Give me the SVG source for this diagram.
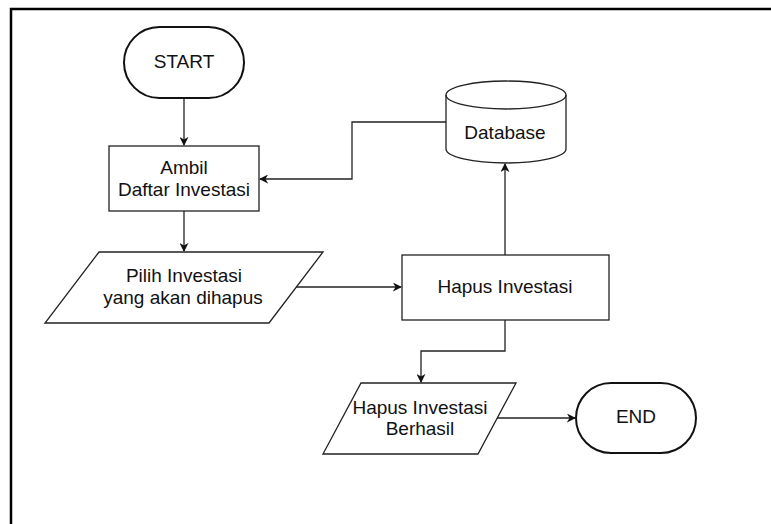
<svg xmlns="http://www.w3.org/2000/svg" width="771" height="524" viewBox="0 0 771 524">
<style>
.s{fill:#fff;stroke:#222;stroke-width:1.3}
.t{fill:#fff;stroke:#111;stroke-width:2}
.c{fill:none;stroke:#222;stroke-width:1.3}
text{font-family:"Liberation Sans",Arial,sans-serif;font-size:19px;fill:#111;text-anchor:middle}
</style>
<defs>
<marker id="a" viewBox="0 0 10 10" refX="9" refY="5" markerWidth="9" markerHeight="9" markerUnits="userSpaceOnUse" orient="auto">
<path d="M0,0 L10,5 L0,10 L3,5 Z" fill="#111"/>
</marker>
</defs>
<rect width="771" height="524" fill="#fff"/>
<path d="M11,524 V9 H771" fill="none" stroke="#000" stroke-width="2.5"/>
<g id="connectors">
<path class="c" d="M184,98 V145" marker-end="url(#a)"/>
<path class="c" d="M184,211 V251" marker-end="url(#a)"/>
<path class="c" d="M446,122 H352 V179 H260" marker-end="url(#a)"/>
<path class="c" d="M296,287 H401" marker-end="url(#a)"/>
<path class="c" d="M505,255 V164" marker-end="url(#a)"/>
<path class="c" d="M505,320 V351 H421 V382" marker-end="url(#a)"/>
<path class="c" d="M497,418 H575" marker-end="url(#a)"/>
</g>
<g id="start">
<rect class="t" x="124" y="27" width="120" height="71" rx="35.5" ry="35.5"/>
<text x="184" y="68">START</text>
</g>
<g id="ambil">
<rect class="s" x="109" y="146" width="150" height="65"/>
<text x="184" y="174">Ambil</text>
<text x="184" y="196">Daftar Investasi</text>
</g>
<g id="pilih">
<polygon class="s" points="99,252 323,252 269,323 45,323"/>
<text x="184" y="282">Pilih Investasi</text>
<text x="183" y="304">yang akan dihapus</text>
</g>
<g id="database">
<path class="s" d="M446,95 A60,14 0 0 1 566,95 V149 A60,14 0 0 1 446,149 Z"/>
<path class="c" d="M446,95 A60,14 0 0 0 566,95"/>
<text x="505" y="139">Database</text>
</g>
<g id="hapus">
<rect class="s" x="402" y="255" width="207" height="65"/>
<text x="505" y="293">Hapus Investasi</text>
</g>
<g id="berhasil">
<polygon class="s" points="361,383 516,383 478,454 323,454"/>
<text x="420" y="414">Hapus Investasi</text>
<text x="420" y="435">Berhasil</text>
</g>
<g id="end">
<rect class="t" x="576" y="383" width="120" height="70" rx="35" ry="35"/>
<text x="636" y="423">END</text>
</g>
</svg>
